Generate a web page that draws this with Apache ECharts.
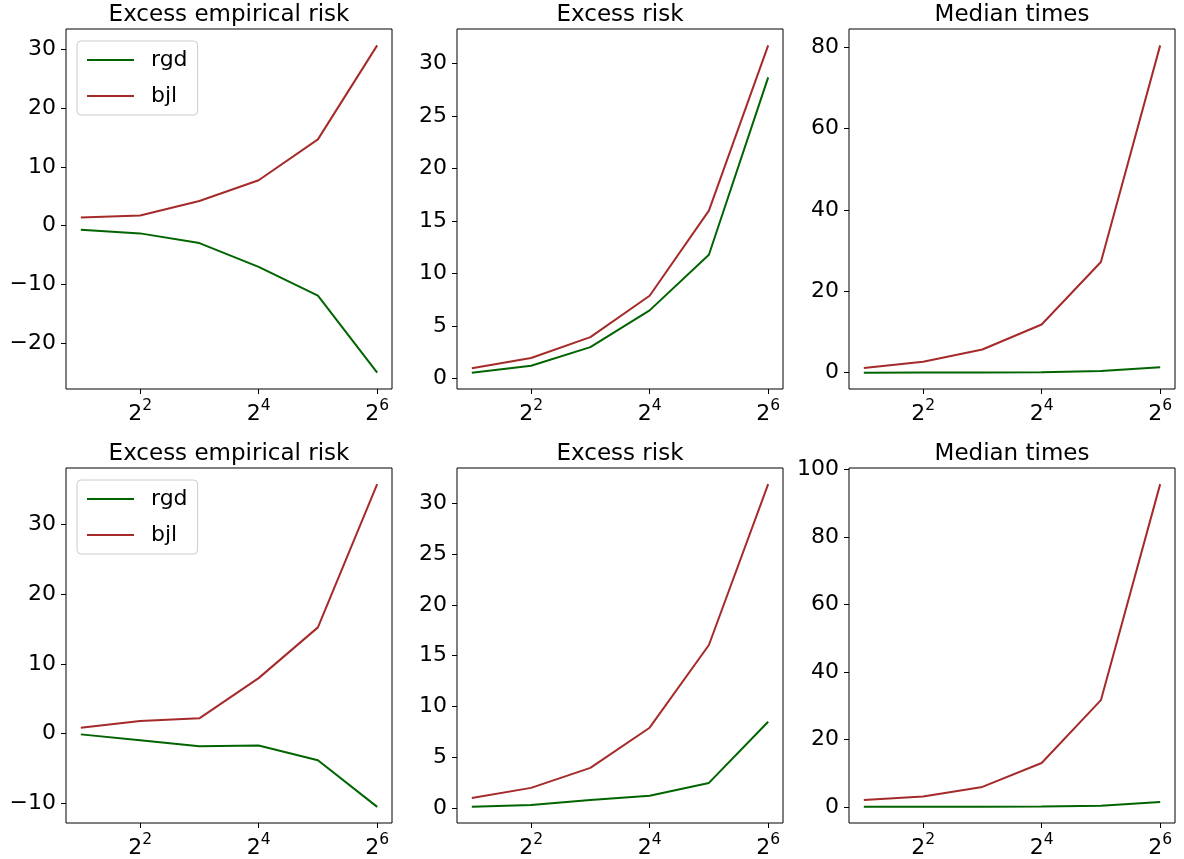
<!DOCTYPE html>
<html>
<head>
<meta charset="utf-8">
<script src="https://cdn.jsdelivr.net/npm/echarts@6/dist/echarts.min.js"></script>
<style>
html,body{margin:0;padding:0;background:#fff;}
#chart{width:1184px;height:859px;}
</style>
</head>
<body>
<div id="chart"></div>
<script>
// x values (n = 2^k)
const nValues = [2, 4, 8, 16, 32, 64];
const xTickExponents = [2, 4, 6];
const titles = ['Excess empirical risk', 'Excess risk', 'Median times', 'Excess empirical risk', 'Excess risk', 'Median times'];
const seriesNames = ['rgd', 'bjl'];

// Row 1
const r1EmpRgd = [-0.7, -1.3, -2.95, -7.0, -11.9, -25.0];
const r1EmpBjl = [1.4, 1.75, 4.2, 7.75, 14.7, 30.7];
const r1RiskRgd = [0.57, 1.23, 3.0, 6.5, 11.8, 28.7];
const r1RiskBjl = [0.98, 1.96, 3.95, 7.9, 16.0, 31.75];
const r1TimeRgd = [0.0, 0.02, 0.05, 0.1, 0.4, 1.3];
const r1TimeBjl = [1.15, 2.7, 5.7, 11.85, 27.2, 80.5];
// Row 2
const r2EmpRgd = [-0.1, -0.94, -1.79, -1.7, -3.8, -10.5];
const r2EmpBjl = [0.85, 1.83, 2.2, 7.97, 15.25, 35.8];
const r2RiskRgd = [0.1, 0.29, 0.78, 1.19, 2.46, 8.48];
const r2RiskBjl = [0.97, 1.97, 3.94, 7.9, 16.05, 31.9];
const r2TimeRgd = [0.0, 0.02, 0.05, 0.1, 0.3, 1.46];
const r2TimeBjl = [2.04, 3.1, 5.9, 13.0, 31.6, 95.6];

// y tick labels
const yTicks = [
  [-20, -10, 0, 10, 20, 30],
  [0, 5, 10, 15, 20, 25, 30],
  [0, 20, 40, 60, 80],
  [-10, 0, 10, 20, 30],
  [0, 5, 10, 15, 20, 25, 30],
  [0, 20, 40, 60, 80, 100]
];

const panels = [
  [r1EmpRgd, r1EmpBjl], [r1RiskRgd, r1RiskBjl], [r1TimeRgd, r1TimeBjl],
  [r2EmpRgd, r2EmpBjl], [r2RiskRgd, r2RiskBjl], [r2TimeRgd, r2TimeBjl]
];

const FONT = 'DejaVu Sans';
const colors = ['#006400', '#a52a2a'];
const colLeft = [66, 457, 849];
const rowTop = [29, 468];
const W = 326, H = 360;

const grids = [], xAxes = [], yAxes = [], series = [], titleArr = [], legends = [];
const xExp = nValues.map(v => Math.log2(v));
const xMin = xExp[0] - 0.05 * (xExp[5] - xExp[0]);
const xMax = xExp[5] + 0.05 * (xExp[5] - xExp[0]);

panels.forEach((p, i) => {
  const r = Math.floor(i / 3), c = i % 3;
  grids.push({left: colLeft[c], top: rowTop[r], width: W, height: H, show: true,
    borderColor: '#000', borderWidth: 1, backgroundColor: 'transparent', containLabel: false});
  const all = p[0].concat(p[1]);
  const lo = Math.min(...all), hi = Math.max(...all), span = hi - lo;
  xAxes.push({type: 'value', gridIndex: i, min: xMin, max: xMax, position: 'bottom',
    axisLine: {show: false, onZero: false}, splitLine: {show: false},
    axisTick: {show: true, length: 5, lineStyle: {color: '#000', width: 1}, customValues: xTickExponents},
    axisLabel: {show: true, margin: 9, customValues: xTickExponents, verticalAlign: 'top',
      formatter: v => '{b|2}{s|' + v + '}',
      rich: {
        b: {fontFamily: FONT, fontSize: 22, color: '#000', verticalAlign: 'bottom', lineHeight: 27},
        s: {fontFamily: FONT, fontSize: 15.5, color: '#000', verticalAlign: 'top', lineHeight: 15}
      }}
  });
  yAxes.push({type: 'value', gridIndex: i, min: lo - 0.05 * span, max: hi + 0.05 * span, position: 'left',
    axisLine: {show: false, onZero: false}, splitLine: {show: false},
    axisTick: {show: true, length: 5, lineStyle: {color: '#000', width: 1}, customValues: yTicks[i]},
    axisLabel: {show: true, margin: 10, customValues: yTicks[i], fontFamily: FONT, fontSize: 22, color: '#000',
      formatter: v => String(v).replace('-', '\u2212')}
  });
  seriesNames.forEach((name, k) => {
    series.push({type: 'line', name: name, xAxisIndex: i, yAxisIndex: i,
      data: nValues.map((n, j) => [Math.log2(n), p[k][j]]),
      symbol: 'none', lineStyle: {color: colors[k], width: 2}, itemStyle: {color: colors[k]},
      silent: true, animation: false});
  });
  titleArr.push({text: titles[i], left: colLeft[c] + W / 2, top: rowTop[r] - 25, textAlign: 'center',
    padding: 0, textStyle: {fontFamily: FONT, fontSize: 23, fontWeight: 'normal', color: '#000'}});
});

[0, 1].forEach(r => {
  legends.push({data: seriesNames, orient: 'vertical', left: 77, top: rowTop[r] + 12,
    itemWidth: 47, itemHeight: 14, itemGap: 14, padding: [8, 10, 8, 9],
    backgroundColor: 'rgba(255,255,255,0.8)', borderColor: '#cccccc', borderWidth: 1, borderRadius: 4,
    itemStyle: {opacity: 0}, lineStyle: {width: 2},
    textStyle: {fontFamily: FONT, fontSize: 22, color: '#000', padding: [0, 0, 0, 12]},
    selectedMode: false});
});

const chart = echarts.init(document.getElementById('chart'), null, {renderer: 'canvas'});
chart.setOption({
  animation: false,
  backgroundColor: '#fff',
  title: titleArr,
  legend: legends,
  grid: grids, xAxis: xAxes, yAxis: yAxes, series: series
});
</script>
</body>
</html>
